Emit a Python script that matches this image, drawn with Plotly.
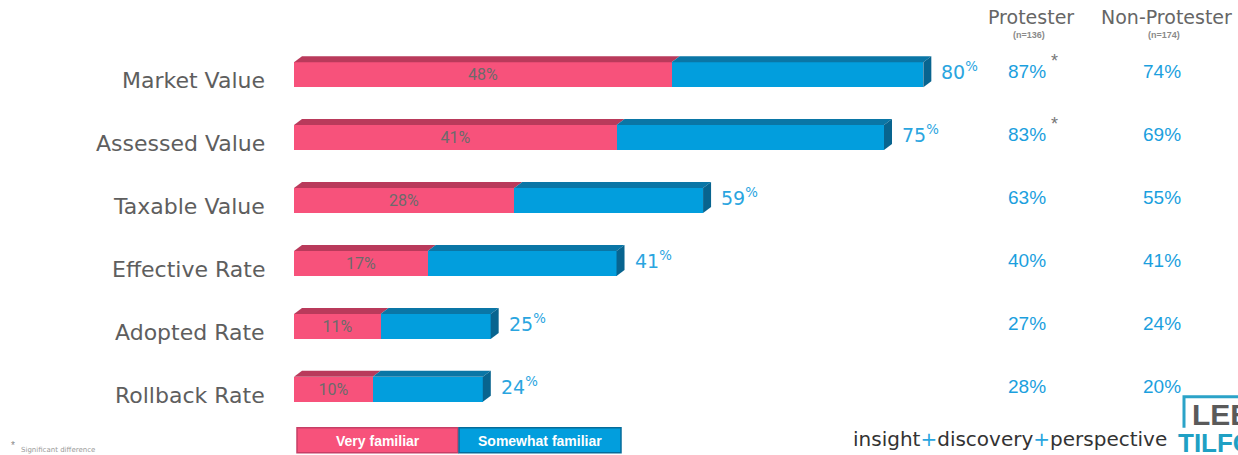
import plotly.graph_objects as go

# ---------------- data ----------------
categories = ["Market Value", "Assessed Value", "Taxable Value",
              "Effective Rate", "Adopted Rate", "Rollback Rate"]
very_familiar = [48, 41, 28, 17, 11, 10]
somewhat_familiar = [32, 34, 24, 24, 14, 14]      # segment lengths as drawn
total_labels = [80, 75, 59, 41, 25, 24]
protester = [87, 83, 63, 40, 27, 28]
non_protester = [74, 69, 55, 41, 24, 20]
significant = [True, True, False, False, False, False]
series_names = ["Very familiar", "Somewhat familiar"]
column_headers = ["Protester", "Non-Protester"]
column_n = ["(n=136)", "(n=174)"]

# ---------------- styling ----------------
W, H = 1238, 455
ML, MR = 294, 0
XR = (0, 120)
PX_PER_X = (W - ML - MR) / (XR[1] - XR[0])
ROW0, ROW_STEP = 74.5, 63.0
Y_TOP, Y_BOT = -0.9, 5.9
MT = ROW0 + Y_TOP * ROW_STEP
MB = H - (ROW0 + Y_BOT * ROW_STEP)
BAR_H = 25 / ROW_STEP
DX = 8 / PX_PER_X
DY = 6 / ROW_STEP

PINK, PINK_TOP = "#F7527B", "#B93A5B"
BLUE, BLUE_TOP, BLUE_SIDE = "#029EDD", "#0A76A6", "#08648F"
LBL_BLUE = "#2AA5DF"
VAL_BLUE = "#1B9FDE"
GRAY = "#5E5E5E"
LIGHT_FONT = "DejaVu Sans"


def paper_x(px):
    return (px - ML) / (W - ML - MR)


def paper_y(py):
    return (H - MB - py) / (H - MB - MT)


ys = list(range(len(categories)))

fig = go.Figure()
fig.add_trace(go.Bar(
    y=ys, x=very_familiar, orientation="h", width=BAR_H, name=series_names[0],
    marker=dict(color=PINK, line=dict(width=0)),
    text=[f"{v}%" for v in very_familiar], textposition="inside",
    insidetextanchor="middle", constraintext="none",
    textfont=dict(family="Roboto", size=16, color="#6B6B6B"),
    showlegend=False, hoverinfo="skip"))
fig.add_trace(go.Bar(
    y=ys, x=somewhat_familiar, orientation="h", width=BAR_H, name=series_names[1],
    marker=dict(color=BLUE, line=dict(width=0)),
    showlegend=False, hoverinfo="skip"))

shapes = []
annotations = []


def poly(pts, color):
    d = "M " + " L ".join(f"{x},{y}" for x, y in pts) + " Z"
    return dict(type="path", xref="x", yref="y", path=d,
                fillcolor=color, line=dict(width=0), layer="above")


for i, (v, s) in enumerate(zip(very_familiar, somewhat_familiar)):
    y = ys[i]
    top = y - BAR_H / 2
    bot = y + BAR_H / 2
    end = v + s
    # top faces
    shapes.append(poly([(0, top), (DX, top - DY), (v + DX, top - DY), (v, top)], PINK_TOP))
    shapes.append(poly([(v, top), (v + DX, top - DY), (end + DX, top - DY), (end, top)], BLUE_TOP))
    # side face
    shapes.append(poly([(end, top), (end + DX, top - DY), (end + DX, bot - DY), (end, bot)], BLUE_SIDE))
    # total label
    annotations.append(dict(
        x=end + DX + 8 / PX_PER_X, y=y - 0.06, xref="x", yref="y",
        text=f"{total_labels[i]}<sup>%</sup>", showarrow=False, xanchor="left",
        font=dict(family=LIGHT_FONT, size=19, color=LBL_BLUE)))
    # category label
    annotations.append(dict(
        x=paper_x(267), y=y + 0.1, xref="paper", yref="y", text=categories[i],
        showarrow=False, xanchor="right",
        font=dict(family=LIGHT_FONT, size=22, color=GRAY)))
    # protester / non-protester values
    annotations.append(dict(
        x=paper_x(1027), y=y - 0.05, xref="paper", yref="y", text=f"{protester[i]}%",
        showarrow=False, xanchor="center",
        font=dict(family="Liberation Sans", size=19, color=VAL_BLUE)))
    annotations.append(dict(
        x=paper_x(1162), y=y - 0.05, xref="paper", yref="y", text=f"{non_protester[i]}%",
        showarrow=False, xanchor="center",
        font=dict(family="Liberation Sans", size=19, color=VAL_BLUE)))
    if significant[i]:
        annotations.append(dict(
            x=paper_x(1054), y=y - 0.22, xref="paper", yref="y", text="*",
            showarrow=False, xanchor="center",
            font=dict(family="Liberation Sans", size=18, color="#777777")))

# column headers
for cx, head, n in zip([1031, 1166], column_headers, column_n):
    annotations.append(dict(
        x=paper_x(cx), y=paper_y(17), xref="paper", yref="paper", text=head,
        showarrow=False, xanchor="center", yanchor="middle",
        font=dict(family=LIGHT_FONT, size=19, color="#666666")))
    annotations.append(dict(
        x=paper_x(cx - 2), y=paper_y(35), xref="paper", yref="paper", text=f"<b>{n}</b>",
        showarrow=False, xanchor="center", yanchor="middle",
        font=dict(family="Liberation Sans", size=9, color="#8A8A8A")))

# legend boxes
leg = [(297, 458, PINK, "#C63F66"), (459, 621, BLUE, "#066C9A")]
for (x0, x1, c, edge), name in zip(leg, series_names):
    shapes.append(dict(type="rect", xref="paper", yref="paper",
                       x0=paper_x(x0), x1=paper_x(x1), y0=paper_y(453), y1=paper_y(428),
                       fillcolor=c, line=dict(color=edge, width=1.5), layer="above"))
    annotations.append(dict(
        x=paper_x((x0 + x1) / 2), y=paper_y(441), xref="paper", yref="paper",
        text=f"<b>{name}</b>", showarrow=False, xanchor="center", yanchor="middle",
        font=dict(family="Liberation Sans", size=14, color="white")))

# footnote
annotations.append(dict(
    x=paper_x(9), y=paper_y(446), xref="paper", yref="paper", text="*",
    showarrow=False, xanchor="left", yanchor="middle",
    font=dict(family="Liberation Sans", size=10, color="#888888")))
annotations.append(dict(
    x=paper_x(19), y=paper_y(450), xref="paper", yref="paper", text="Significant difference",
    showarrow=False, xanchor="left", yanchor="middle",
    font=dict(family=LIGHT_FONT, size=7, color="#999999")))

# tagline
plus = '<span style="color:#2AA5DF">+</span>'
annotations.append(dict(
    x=paper_x(851), y=paper_y(439), xref="paper", yref="paper",
    text=f"insight{plus}discovery{plus}perspective", showarrow=False,
    xanchor="left", yanchor="middle",
    font=dict(family="DejaVu Sans", size=20, color="#333333")))

# logo
shapes.append(dict(type="path", xref="paper", yref="paper",
                   path=f"M {paper_x(1184)},{paper_y(428)} L {paper_x(1184)},{paper_y(397)} L {paper_x(1240)},{paper_y(397)}",
                   line=dict(color="#2BA3C8", width=3), layer="above"))
annotations.append(dict(
    x=paper_x(1190), y=paper_y(415), xref="paper", yref="paper", text="<b>LEE</b>",
    showarrow=False, xanchor="left", yanchor="middle",
    font=dict(family="Liberation Sans Narrow, Liberation Sans", size=30, color="#5A5A5A")))
annotations.append(dict(
    x=paper_x(1176), y=paper_y(443), xref="paper", yref="paper", text="<b>TILFORD</b>",
    showarrow=False, xanchor="left", yanchor="middle",
    font=dict(family="Liberation Sans Narrow, Liberation Sans", size=26, color="#1FA0C4")))

fig.update_layout(
    width=W, height=H, barmode="stack", bargap=0,
    margin=dict(l=ML, r=MR, t=MT, b=MB, pad=0),
    paper_bgcolor="white", plot_bgcolor="white",
    xaxis=dict(range=list(XR), visible=False, fixedrange=True),
    yaxis=dict(range=[Y_BOT, Y_TOP], visible=False, fixedrange=True),
    shapes=shapes, annotations=annotations,
)

fig.write_html("out.html", config={"displayModeBar": False},
               post_script="document.body.style.margin='0';document.body.style.overflow='hidden';")
